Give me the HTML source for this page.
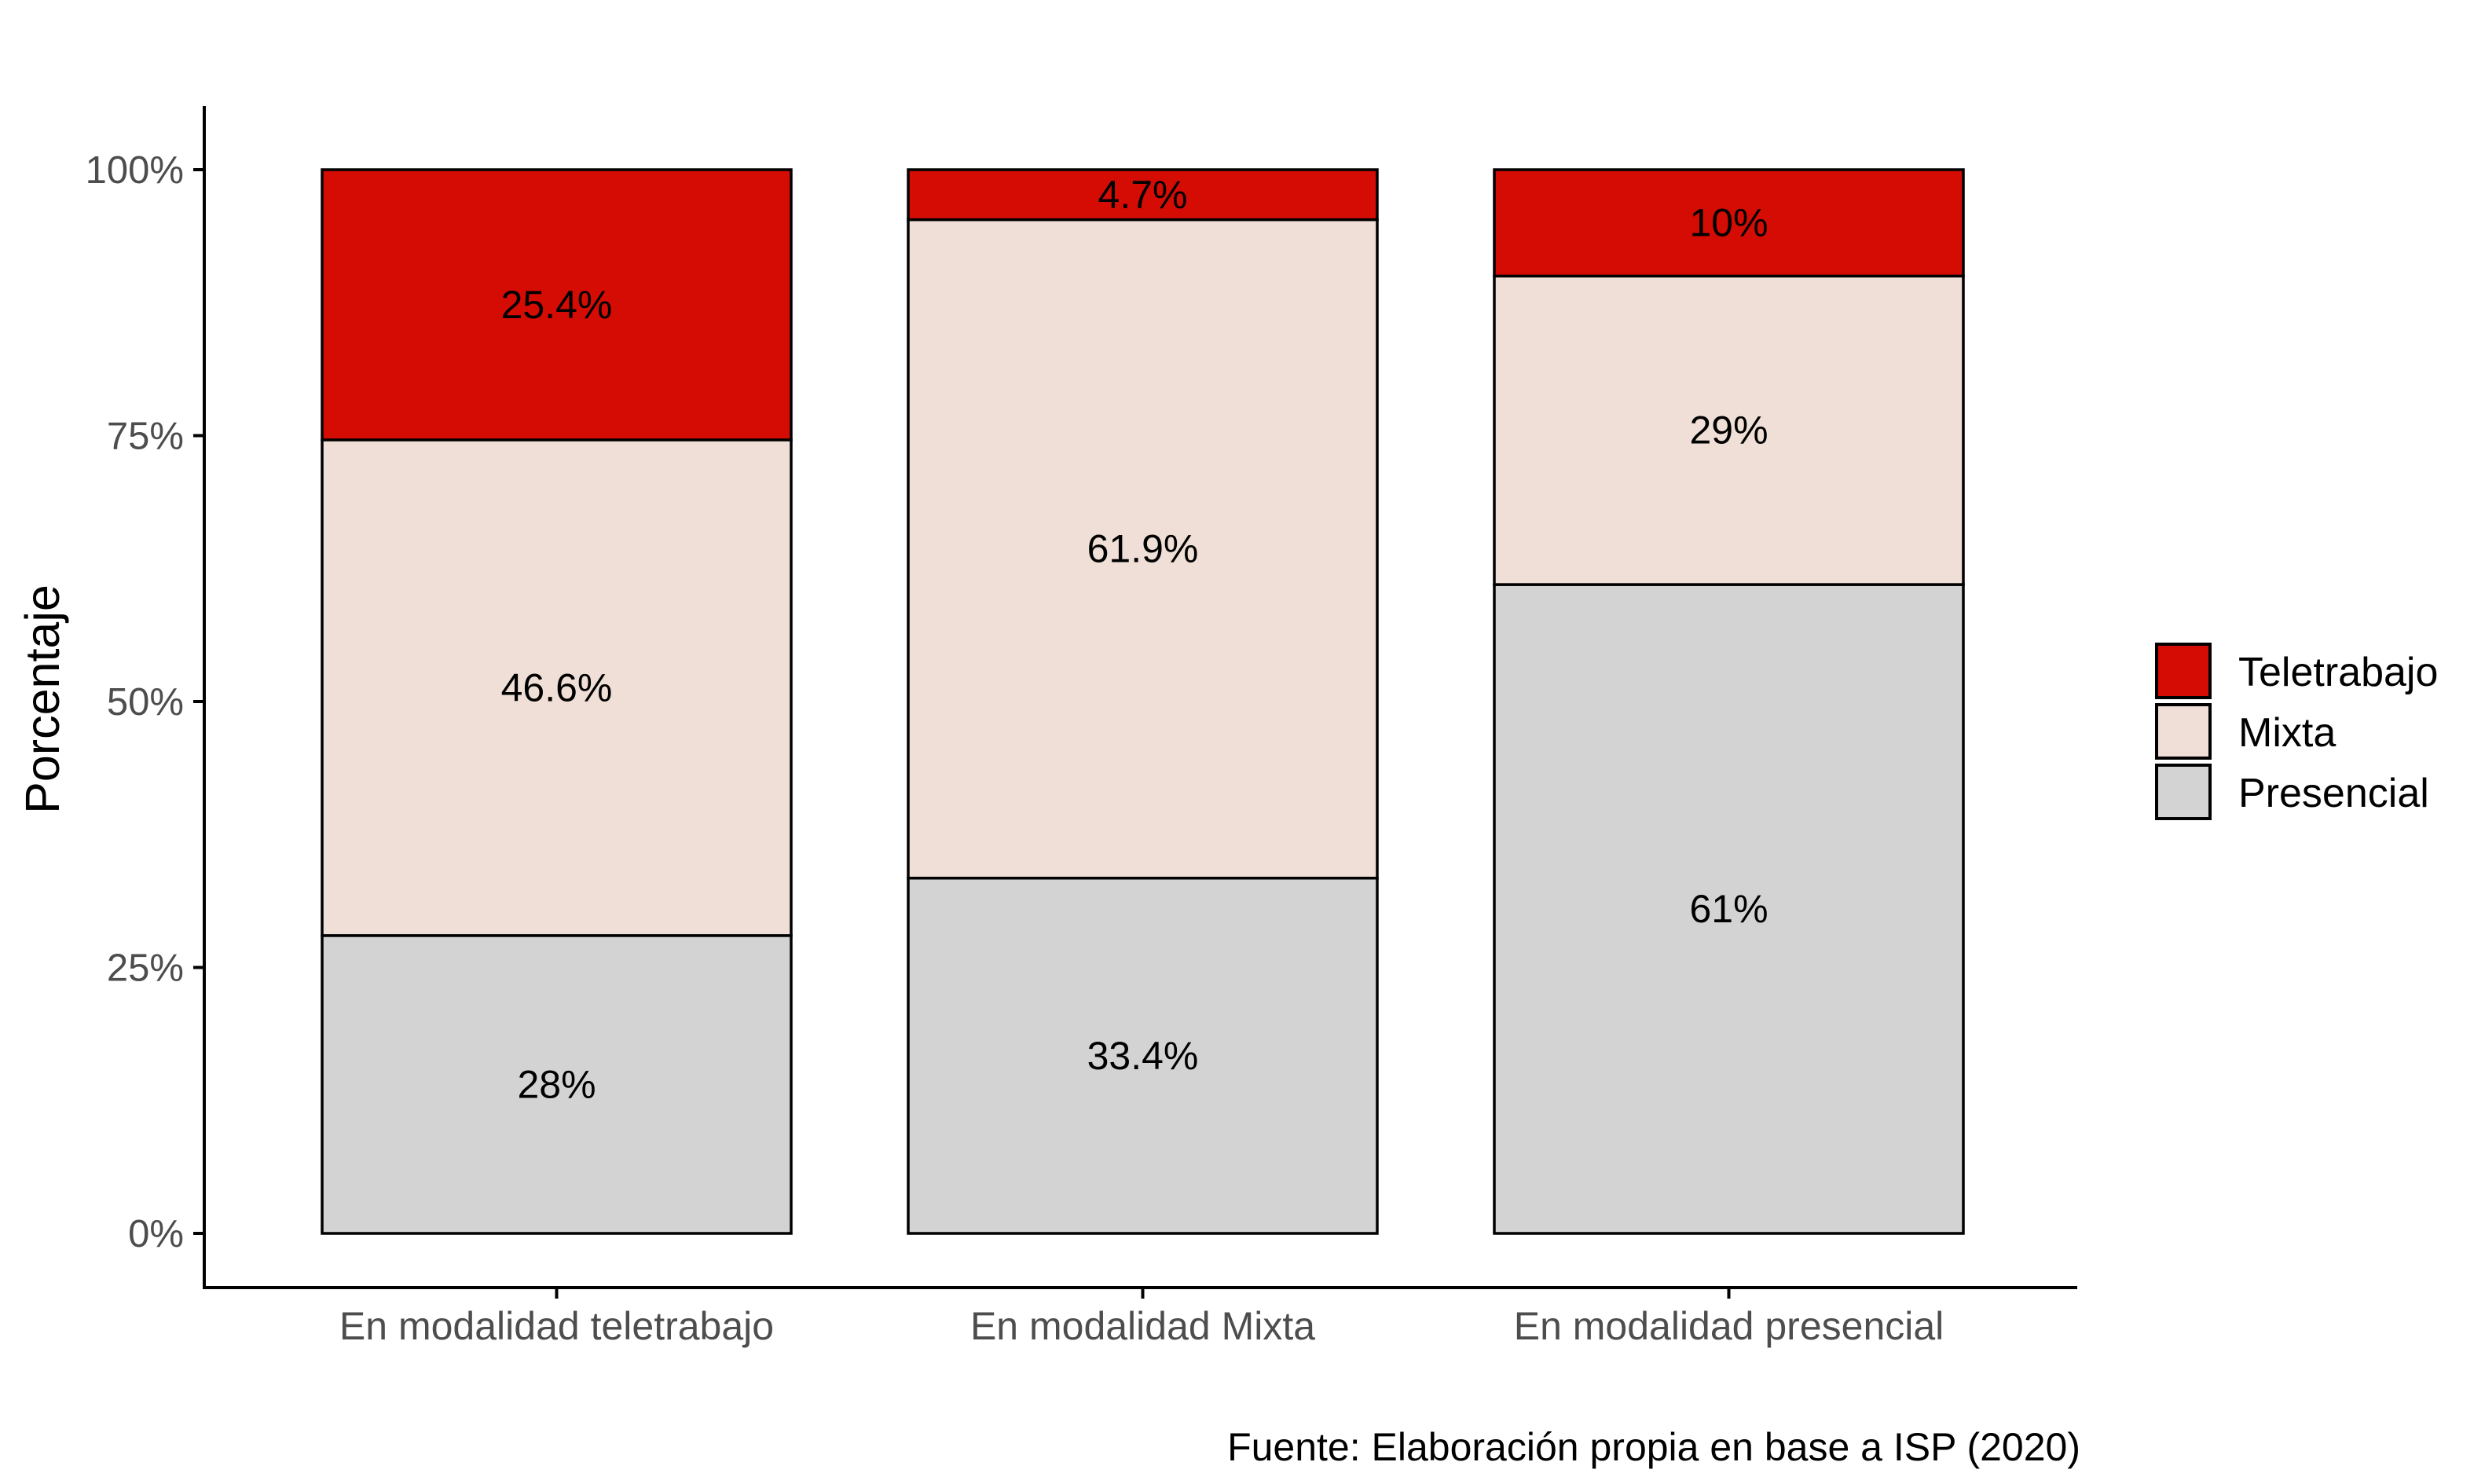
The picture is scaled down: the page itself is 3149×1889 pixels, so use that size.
<!DOCTYPE html>
<html><head><meta charset="utf-8"><style>
html,body{margin:0;padding:0;background:#fff;}
svg{display:block;font-family:"Liberation Sans",Arial,sans-serif;}
</style></head><body>
<svg id="chart" width="3149" height="1889" viewBox="0 0 3149 1889" xmlns="http://www.w3.org/2000/svg">
<g id="plot"></g>
</svg>
<script>
const categories = ["En modalidad teletrabajo", "En modalidad Mixta", "En modalidad presencial"];
const presencial = [28, 33.4, 61];
const mixta = [46.6, 61.9, 29];
const teletrabajo = [25.4, 4.7, 10];
const presencialLabels = ["28%", "33.4%", "61%"];
const mixtaLabels = ["46.6%", "61.9%", "29%"];
const teletrabajoLabels = ["25.4%", "4.7%", "10%"];
const yTicks = [0, 25, 50, 75, 100];
const yTickLabels = ["0%", "25%", "50%", "75%", "100%"];

const NS = "http://www.w3.org/2000/svg";
const g = document.getElementById("plot");
const y0 = 1570, y100 = 216;
function yScale(v){ return y0 - (y0 - y100) * v / 100; }
const bandStart = 410, bandStep = 746, barW = 597;
function xScale(i){ return bandStart + i * bandStep; }
function mk(tag, attrs, text){
  const e = document.createElementNS(NS, tag);
  for (const k in attrs) e.setAttribute(k, attrs[k]);
  if (text !== undefined) e.textContent = text;
  g.appendChild(e);
  return e;
}
const series = [
  {vals: presencial, labels: presencialLabels, color: "#d3d3d3", name: "presencial"},
  {vals: mixta, labels: mixtaLabels, color: "#efdfd6", name: "mixta"},
  {vals: teletrabajo, labels: teletrabajoLabels, color: "#d40c04", name: "teletrabajo"}
];
categories.forEach((c, i) => {
  let cum = 0;
  series.forEach(s => {
    const v = s.vals[i];
    const yt = yScale(cum + v), yb = yScale(cum);
    const r = mk("rect", {x: xScale(i), y: yt, width: barW, height: yb - yt, fill: s.color, stroke: "#000", "stroke-width": 3.5});
    
    
    const t = mk("text", {x: xScale(i) + barW/2, y: (yt + yb)/2 + 17, "text-anchor": "middle", "font-size": 50, fill: "#000"}, s.labels[i]);
    
    
    cum += v;
  });
  const tk = mk("line", {x1: xScale(i)+barW/2, x2: xScale(i)+barW/2, y1: 1639, y2: 1653, stroke: "#000", "stroke-width": 4});
  
  
  const xl = mk("text", {x: xScale(i)+barW/2, y: 1705, "text-anchor": "middle", "font-size": 50, fill: "#4d4d4d"}, c);
  
  
});
yTicks.forEach((v, i) => {
  const tk = mk("line", {x1: 246, x2: 260, y1: yScale(v), y2: yScale(v), stroke: "#000", "stroke-width": 4});
  
  
  const tl = mk("text", {x: 234, y: yScale(v) + 17, "text-anchor": "end", "font-size": 49, fill: "#4d4d4d"}, yTickLabels[i]);
  
  
});
</script>
<script>
(function(){
const NS = "http://www.w3.org/2000/svg";
const svg = document.getElementById("chart");
function mk(tag, attrs, text){
  const e = document.createElementNS(NS, tag);
  for (const k in attrs) e.setAttribute(k, attrs[k]);
  if (text !== undefined) e.textContent = text;
  svg.appendChild(e);
  return e;
}
const ya = mk("line", {x1: 260, x2: 260, y1: 135, y2: 1641, stroke: "#000", "stroke-width": 4});


const xa = mk("line", {x1: 258, x2: 2644, y1: 1639, y2: 1639, stroke: "#000", "stroke-width": 4});


const yt = mk("text", {x: 0, y: 0, transform: "translate(75,890) rotate(-90)", "text-anchor": "middle", "font-size": 61, fill: "#000"}, "Porcentaje");


const legend = [["Teletrabajo","#d40c04"],["Mixta","#efdfd6"],["Presencial","#d3d3d3"]];
legend.forEach((l, i) => {
  const r = mk("rect", {x: 2745, y: 820 + i*77, width: 68, height: 68, fill: l[1], stroke: "#000", "stroke-width": 4});
  
  
  const t = mk("text", {x: 2849, y: 873 + i*77, "font-size": 52, fill: "#000"}, l[0]);
  
  
});
const cap = mk("text", {x: 2648, y: 1859, "text-anchor": "end", "font-size": 50, fill: "#000"}, "Fuente: Elaboración propia en base a ISP (2020)");


})();
</script>
</body></html>
